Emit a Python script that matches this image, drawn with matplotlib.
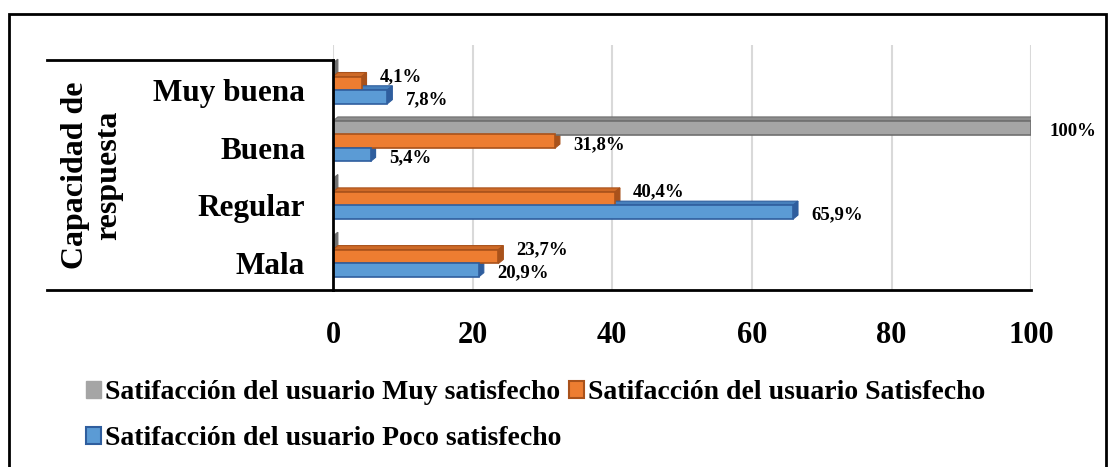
import numpy as np
import matplotlib.pyplot as plt
from matplotlib.patches import Rectangle, Polygon
from matplotlib.lines import Line2D
from matplotlib.colors import to_rgb

categorias = ["Mala", "Regular", "Buena", "Muy buena"]
muy_satisfecho = [0, 0, 100, 0]
satisfecho = [23.7, 40.4, 31.8, 4.1]
poco_satisfecho = [20.9, 65.9, 5.4, 7.8]
etiq_muy = ["", "", "100%", ""]
etiq_sat = ["23,7%", "40,4%", "31,8%", "4,1%"]
etiq_poco = ["20,9%", "65,9%", "5,4%", "7,8%"]
nombres = ["Satifacción del usuario Muy satisfecho",
           "Satifacción del usuario Satisfecho",
           "Satifacción del usuario Poco satisfecho"]

plt.rcParams['font.family'] = ['Liberation Serif', 'DejaVu Serif']
plt.rcParams['font.weight'] = 'bold'

fig = plt.figure(figsize=(11.1, 4.67), dpi=100)
ax = fig.add_axes([0.3, 0.379, 0.629, 0.525])

y = np.arange(len(categorias))
h = 0.24
dx, dy = 0.7, 0.07   # depth of the fake 3D faces (data units)
series = [
    (muy_satisfecho, etiq_muy, 0.34, "#A5A5A5", "#6f6f6f", "gris"),
    (satisfecho, etiq_sat, 0.11, "#ED7D31", "#A9521B", "naranja"),
    (poco_satisfecho, etiq_poco, -0.12, "#5B9BD5", "#2F5E9E", "azul"),
]
for vals, etiq, off, col, edge, nombre in series:
    cara = tuple(0.55 * a + 0.45 * b for a, b in zip(to_rgb(col), to_rgb(edge)))
    ax.barh(y + off, vals, height=h, color=col, edgecolor=edge, linewidth=1.2, zorder=3)
    for i, (yi, v, t) in enumerate(zip(y + off, vals, etiq)):
        top = yi + h / 2
        bot = yi - h / 2
        ax.add_patch(Polygon([(0, top), (v, top), (v + dx, top + dy), (dx, top + dy)],
                             closed=True, facecolor=cara, edgecolor=edge, lw=0.8, zorder=2))
        ax.add_patch(Polygon([(v, bot), (v + dx, bot + dy), (v + dx, top + dy), (v, top)],
                             closed=True, facecolor=edge, edgecolor=edge, lw=0.8, zorder=2))
        if t:
            if nombre == "naranja":
                oy = -4 if muy_satisfecho[i] > 0 else 7
            elif nombre == "azul":
                oy = -3
            else:
                oy = -4
            ax.annotate(t, (v, yi), xytext=(18, oy),
                        textcoords="offset pixels", ha="left", va="center",
                        fontsize=13.5, fontweight="bold", annotation_clip=False)

ax.set_xlim(0, 100)
ax.set_ylim(-0.47, 3.78)
ax.set_xticks([0, 20, 40, 60, 80, 100])
ax.tick_params(axis='x', length=0, pad=22, labelsize=22)
ax.set_yticks(y)
ax.set_yticklabels(categorias)
ax.tick_params(axis='y', length=0, pad=20, labelsize=22.5)
ax.xaxis.grid(True, color="#d9d9d9", linewidth=1.5)
ax.set_axisbelow(True)
for s in ["top", "right", "left"]:
    ax.spines[s].set_visible(False)
ax.spines["bottom"].set_linewidth(2)

# left label box lines
fig.add_artist(Line2D([0.042, 0.3], [1 - 60 / 467, 1 - 60 / 467], color="black", lw=2))
fig.add_artist(Line2D([0.042, 0.3], [1 - 290 / 467, 1 - 290 / 467], color="black", lw=2))
fig.add_artist(Line2D([0.3, 0.3], [1 - 60 / 467, 1 - 290 / 467], color="black", lw=2))
fig.text(0.083, 1 - 175 / 467, "Capacidad de\nrespuesta", rotation=90, ha="center",
         va="center", fontsize=23, fontweight="bold", linespacing=1.2)

# outer border
fig.add_artist(Rectangle((0.008, -0.01), 0.988, 0.98, fill=False, edgecolor="black",
                         lw=2, transform=fig.transFigure))

handles = [Rectangle((0, 0), 1, 1, facecolor="#A5A5A5", edgecolor="#A5A5A5"),
           Rectangle((0, 0), 1, 1, facecolor="#5B9BD5", edgecolor="#2F5E9E", lw=1.5),
           Rectangle((0, 0), 1, 1, facecolor="#ED7D31", edgecolor="#A9521B", lw=1.5)]
fig.legend(handles, [nombres[0], nombres[2], nombres[1]], ncol=2,
           loc="upper left", bbox_to_anchor=(0.065, 0.215), frameon=False,
           prop={"size": 20, "weight": "bold"}, handlelength=0.55, handleheight=0.55,
           handletextpad=0.15, columnspacing=0.25, labelspacing=0.75, borderpad=0)

fig.savefig("out.png", dpi=100)
